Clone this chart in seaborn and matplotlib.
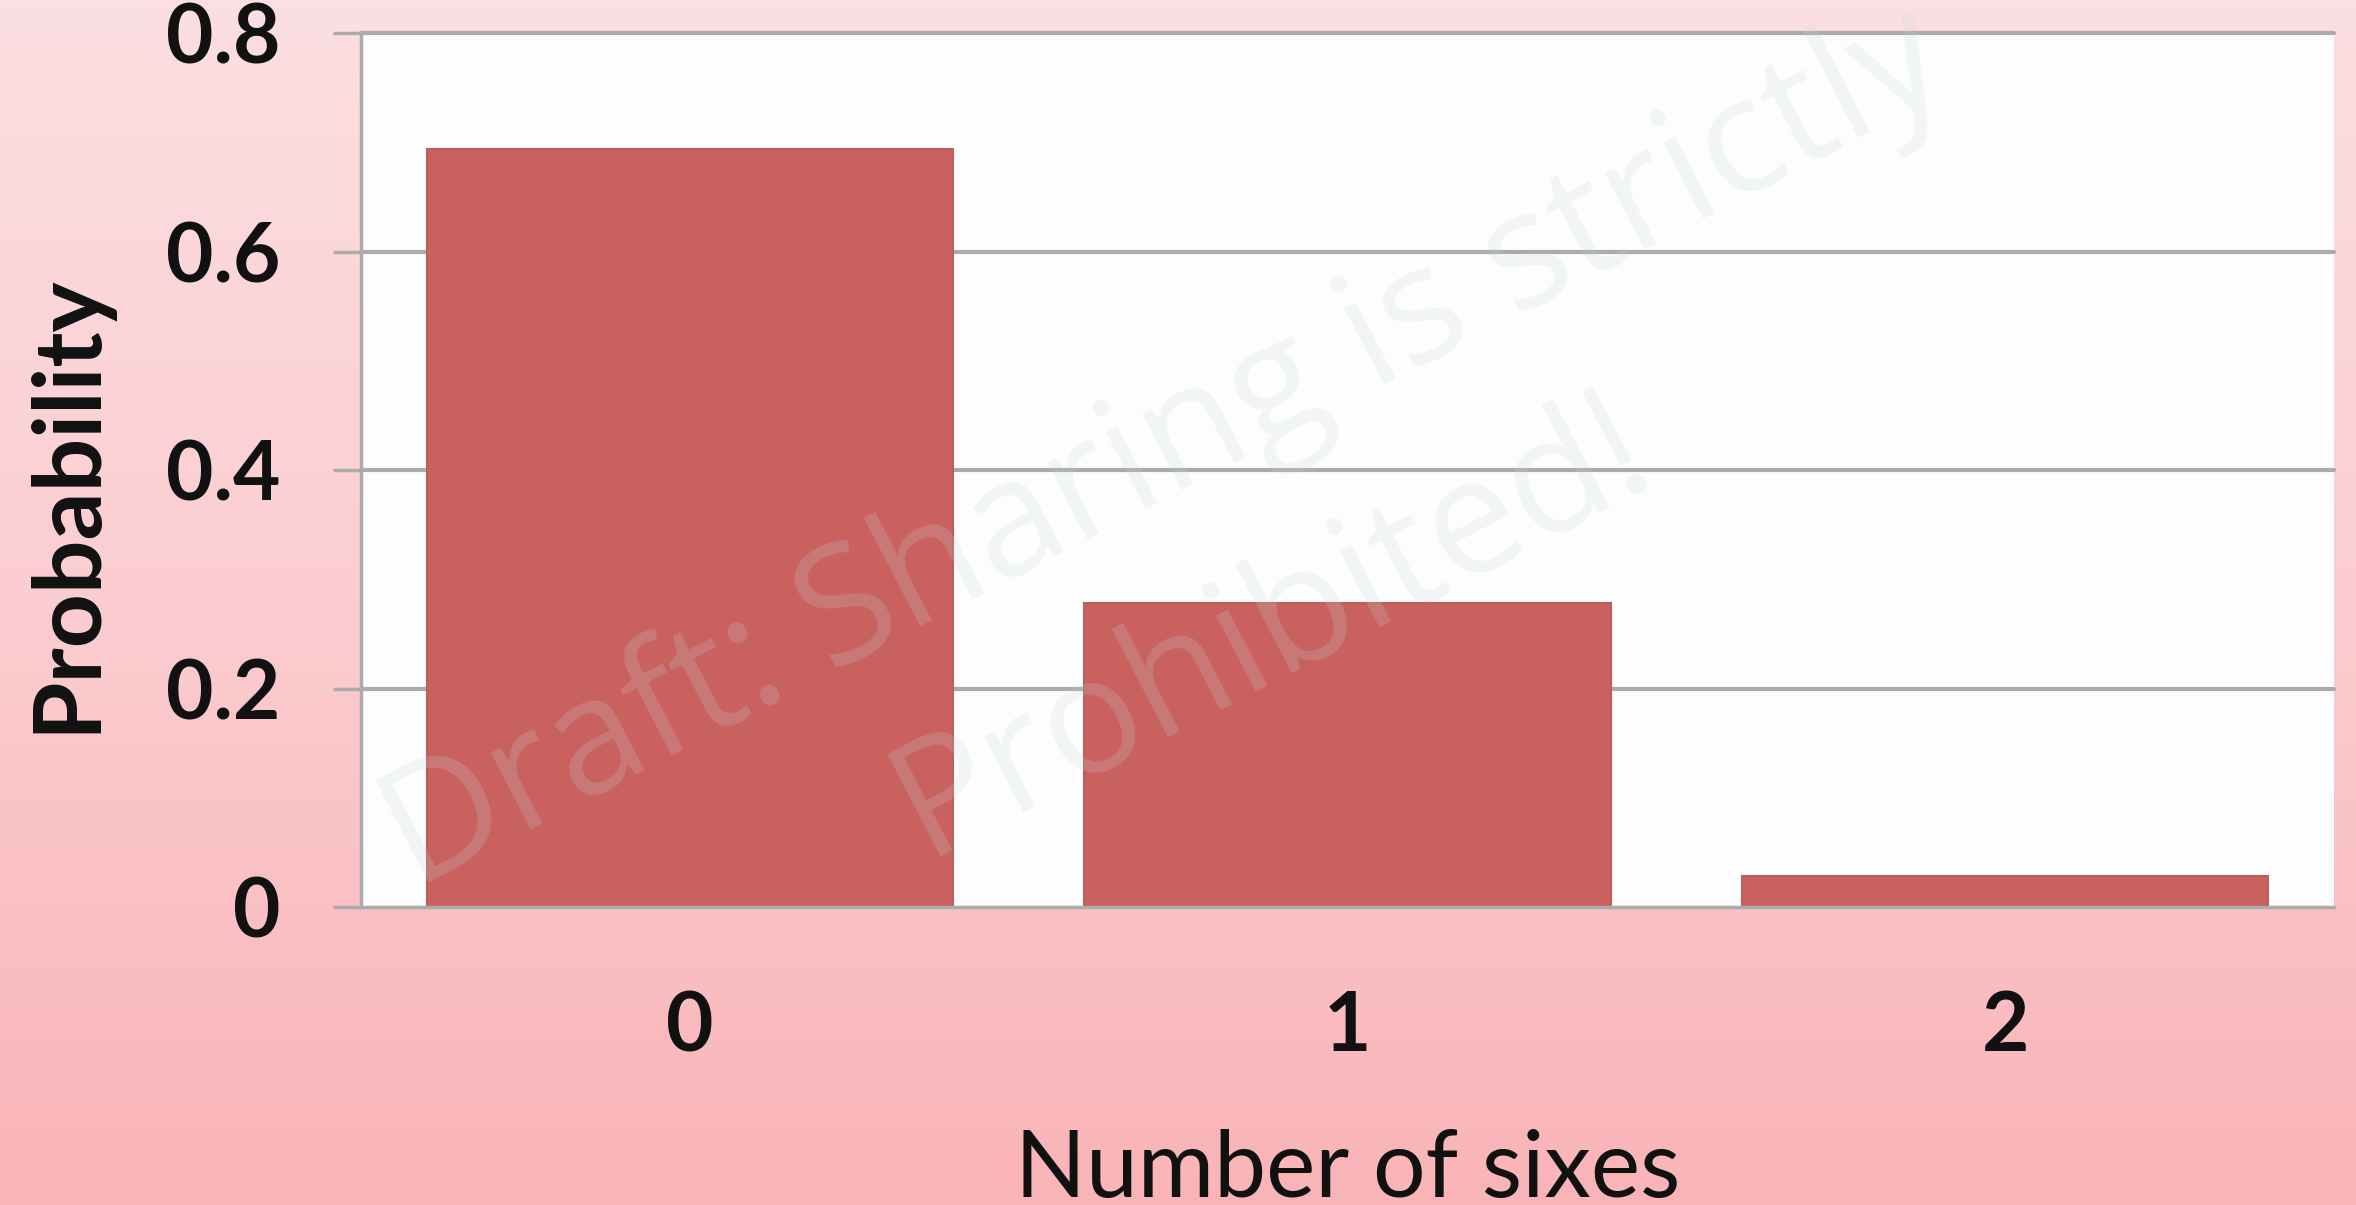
import numpy as np
import pandas as pd
import matplotlib
matplotlib.use("Agg")
import matplotlib.pyplot as plt
from matplotlib.colors import LinearSegmentedColormap
import seaborn as sns

# Distribution of the number of sixes when two dice are rolled
sixes = ["0", "1", "2"]
probability = [0.694, 0.278, 0.028]
y_ticks = [0, 0.2, 0.4, 0.6, 0.8]
y_tick_labels = ["0", "0.2", "0.4", "0.6", "0.8"]

df = pd.DataFrame({"sixes": sixes, "probability": probability})

sns.set_style("white")
plt.rcParams["font.family"] = ["Lato", "DejaVu Sans"]

fig = plt.figure(figsize=(23.56, 12.05), dpi=100)

# pink vertical gradient behind everything
bg = fig.add_axes([0, 0, 1, 1], zorder=-10)
grad = np.linspace(0, 1, 256).reshape(-1, 1)
cmap = LinearSegmentedColormap.from_list(
    "pinkbg", ["#fcdfe2", "#fbcdd0", "#f9b4b7"])
bg.imshow(grad, aspect="auto", cmap=cmap, extent=[0, 1, 0, 1], origin="upper")
bg.set_axis_off()

ax = fig.add_axes([0.1532, 0.2473, 0.8375, 0.7253])
ax.set_facecolor("#fdfdfd")

sns.barplot(data=df, x="sixes", y="probability", ax=ax, color="#c9625f",
            width=0.8, saturation=1, edgecolor="#b9605d", linewidth=1.5,
            zorder=3)

ax.set_xlim(-0.5, 2.5)
ax.set_ylim(0, 0.8)
ax.set_yticks(y_ticks)
ax.set_yticklabels(y_tick_labels)

grid_c = "#ababab"
for v in y_ticks[1:]:
    ax.axhline(v, color=grid_c, lw=3, zorder=1, clip_on=False)

for side in ["top", "right"]:
    ax.spines[side].set_visible(False)
for side in ["left", "bottom"]:
    ax.spines[side].set_color(grid_c)
    ax.spines[side].set_linewidth(2.5)
    ax.spines[side].set_zorder(4)

# category separators below the axis
ax.set_xticks([-0.5, 0.5, 1.5, 2.5], minor=True)
ax.tick_params(axis="x", which="minor", length=20, width=2, color=grid_c,
               direction="out")
ax.tick_params(axis="x", which="major", length=0, pad=60)
ax.tick_params(axis="y", which="major", length=20, width=2.5, color=grid_c,
               direction="out", pad=38, left=True)

for lab in ax.get_xticklabels() + ax.get_yticklabels():
    lab.set_fontsize(59)
    lab.set_fontweight("bold")
    lab.set_color("#111111")

ax.set_xlabel("Number of sixes", fontsize=67, color="#111111",
              family=["Lato", "DejaVu Sans"])
ax.xaxis.set_label_coords(0.5, -0.332)
ax.xaxis.label.set_va("baseline")
ax.set_ylabel("Probability", fontsize=68, fontweight="bold", color="#111111")
ax.yaxis.set_label_coords(-0.127, 0.462)

# draft watermark
wm = dict(fontsize=116, color="#c8d7dc", alpha=0.2, rotation=27.5,
          rotation_mode="anchor", ha="center", va="center",
          family=["Open Sans", "DejaVu Sans"], zorder=20)
fig.text(1165 / 2356, 1 - 451 / 1205, "Draft: Sharing is strictly", **wm)
fig.text(1272 / 2356, 1 - 628 / 1205, "Prohibited!", **wm)

fig.savefig("out.png", dpi=100)
